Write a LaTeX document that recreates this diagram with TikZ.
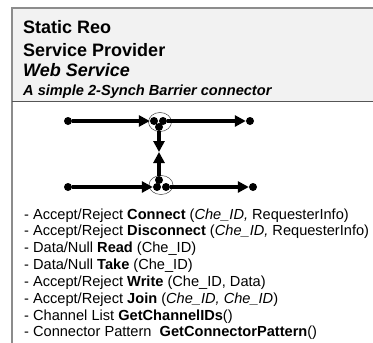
\documentclass[tikz,border=0pt]{standalone}
\usepackage{fontspec}
\setmainfont{Liberation Sans}
\usetikzlibrary{arrows.meta,shapes.geometric}
\definecolor{FrameGray}{HTML}{8C8C8C}
\definecolor{HeadFill}{HTML}{F2F2F2}
\definecolor{RuleGray}{HTML}{555555}

\begin{document}
\begin{tikzpicture}[x=1pt, y=-1pt,
    dot/.style={circle, fill=black, inner sep=0pt, minimum size=8pt},
    mixer/.style={ellipse, draw=black!75, line width=0.5pt, inner sep=0pt},
    flow/.style={line width=3.4pt, -{Triangle[length=11pt, width=11pt]}},
    head/.style={anchor=base west, inner sep=0pt, font=\fontsize{18}{20}\selectfont\bfseries},
    headit/.style={anchor=base west, inner sep=0pt, font=\fontsize{18}{20}\selectfont\bfseries\itshape},
    subhead/.style={anchor=base west, inner sep=0pt, font=\fontsize{14.6}{17}\selectfont\bfseries\itshape},
    item/.style={anchor=base west, inner sep=0pt, font=\fontsize{14.6}{17}\selectfont}]
  \useasboundingbox (0,0) rectangle (373,343);

  % frame and header
  \fill[HeadFill] (12,8) rectangle (376,101);
  \draw[FrameGray, line width=1.2pt] (376,8) -- (12,8) -- (12,346);
  \draw[RuleGray, line width=0.8pt] (12,101) -- (376,101);

  \node[head] (title) at (23,33) {Static Reo};
  \node[head] (role) at (23,56) {Service Provider};
  \node[headit] (kind) at (23,76) {Web Service};
  \node[subhead] (desc) at (23,95) {A simple 2-Synch Barrier connector};

  % barrier connector
  \node[mixer, minimum width=23pt, minimum height=19pt] (mixA) at (160,122) {};
  \node[mixer, minimum width=24pt, minimum height=19pt] (mixB) at (161,185) {};

  \node[dot] (srcA) at (68,121) {};
  \node[dot] (snkA) at (250,121) {};
  \node[dot] (srcB) at (68,187) {};
  \node[dot] (snkB) at (253,187) {};

  \node[dot] (a1) at (154,121) {};
  \node[dot] (a2) at (163,121) {};
  \node[dot] (a3) at (159,127) {};
  \node[dot] (b1) at (159,180) {};
  \node[dot] (b2) at (157,187) {};
  \node[dot] (b3) at (166,187) {};
  \coordinate (mid) at (159,152);

  \draw[flow] (srcA) -- (a1);
  \draw[flow] (a2) -- (snkA);
  \draw[flow] (srcB) -- (b2);
  \draw[flow] (b3) -- (snkB);
  \draw[flow] (a3) -- (mid);
  \draw[flow] (b1) -- (mid);

  % operations
  \foreach \txt [count=\i from 0] in {
      {- Accept/Reject \textbf{Connect} (\textit{Che\_ID,} RequesterInfo)},
      {- Accept/Reject \textbf{Disconnect} (\textit{Che\_ID,} RequesterInfo)},
      {- Data/Null \textbf{Read} (Che\_ID)},
      {- Data/Null \textbf{Take} (Che\_ID)},
      {- Accept/Reject \textbf{Write} (Che\_ID, Data)},
      {- Accept/Reject \textbf{Join} (\textit{Che\_ID, Che\_ID})},
      {- Channel List \textbf{GetChannelIDs}()},
      {- Connector Pattern~~\textbf{GetConnectorPattern}()}} {
    \node[item] (op\i) at (24, 219+16.85*\i) {\txt};
  }
\end{tikzpicture}
\end{document}
